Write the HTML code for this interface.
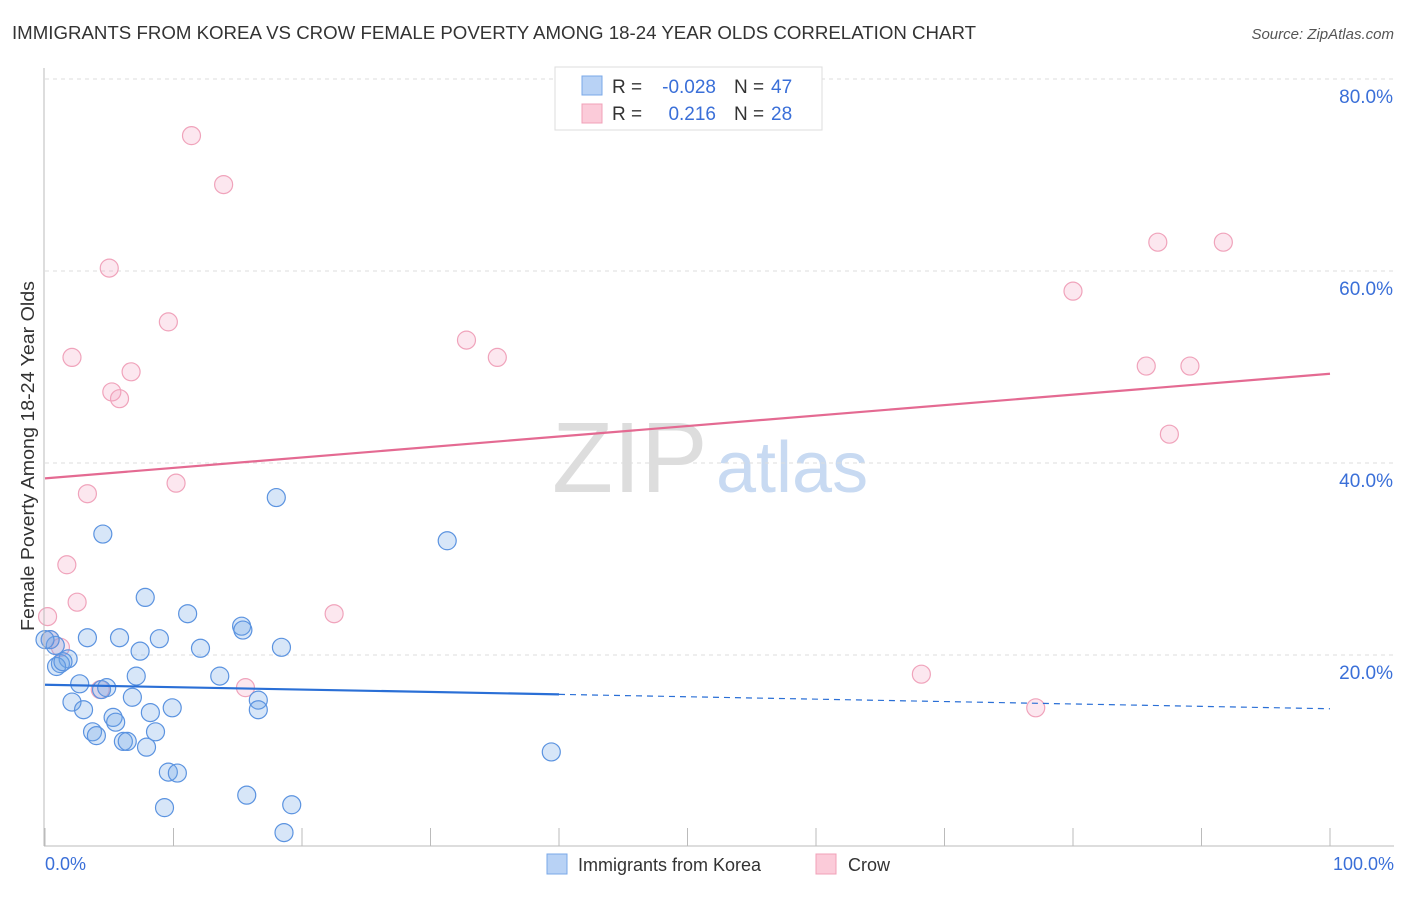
<!DOCTYPE html>
<html><head><meta charset="utf-8"><style>
body{margin:0;background:#fff;font-family:"Liberation Sans",sans-serif}
svg text{font-family:"Liberation Sans",sans-serif}
</style></head><body>
<svg id="chart" width="1406" height="892" xmlns="http://www.w3.org/2000/svg">
<text x="12" y="39" font-size="18" fill="#333" textLength="964" lengthAdjust="spacingAndGlyphs">IMMIGRANTS FROM KOREA VS CROW FEMALE POVERTY AMONG 18-24 YEAR OLDS CORRELATION CHART</text>
<text x="1394" y="39" font-size="15" fill="#555" text-anchor="end" font-style="italic">Source: ZipAtlas.com</text>
<text x="552" y="492" font-size="100" fill="#ddd" font-family="Liberation Serif">ZIP</text>
<text x="716" y="492" font-size="72" fill="#c8daf2">atlas</text>
<g id="grid"></g><g id="pts"></g><g id="lines"></g>
<line x1="44" y1="68" x2="44" y2="846" stroke="#bbb"/>
<line x1="44" y1="846" x2="1394" y2="846" stroke="#bbb"/>
<text transform="translate(34,456) rotate(-90)" font-size="18" fill="#333" text-anchor="middle" textLength="350" lengthAdjust="spacingAndGlyphs">Female Poverty Among 18-24 Year Olds</text>
<text x="45" y="870" font-size="18" fill="#3a6fd8">0.0%</text>
<text x="1394" y="870" font-size="18" fill="#3a6fd8" text-anchor="end">100.0%</text>
<g>
<rect x="555" y="67" width="267" height="63" fill="#fff" stroke="#ddd"/>
<rect x="582" y="76" width="20" height="19" fill="#b8d2f5" stroke="#7aa8e8"/>
<rect x="582" y="104" width="20" height="19" fill="#fbcbd9" stroke="#f0a0b8"/>
<text x="612" y="93" font-size="19" fill="#333">R =</text>
<text x="716" y="93" font-size="19" fill="#3a6fd8" text-anchor="end">-0.028</text>
<text x="734" y="93" font-size="19" fill="#333">N =</text>
<text x="771" y="93" font-size="19" fill="#3a6fd8">47</text>
<text x="612" y="120" font-size="19" fill="#333">R =</text>
<text x="716" y="120" font-size="19" fill="#3a6fd8" text-anchor="end">0.216</text>
<text x="734" y="120" font-size="19" fill="#333">N =</text>
<text x="771" y="120" font-size="19" fill="#3a6fd8">28</text>
</g>
<g>
<rect x="547" y="854" width="20" height="20" fill="#b8d2f5" stroke="#7aa8e8"/>
<text x="578" y="871" font-size="18" fill="#333">Immigrants from Korea</text>
<rect x="816" y="854" width="20" height="20" fill="#fbcbd9" stroke="#f0a0b8"/>
<text x="848" y="871" font-size="18" fill="#333">Crow</text>
</g>
</svg>
<script>
const yTicks=[20,40,60,80];
const yTickLabels=["20.0%","40.0%","60.0%","80.0%"];
const xTicks=[0,10,20,30,40,50,60,70,80,90,100];
const koreaX=[4.5,18.0,31.3,7.8,11.1,3.3,5.8,8.9,15.3,15.4,18.4,12.1,7.4,0.8,0.4,1.8,1.2,0.9,1.4,2.7,4.4,4.8,13.6,7.1,2.1,3.0,6.8,16.6,16.6,8.2,9.9,5.3,5.5,3.7,4.0,8.6,6.1,6.4,7.9,9.6,10.3,39.4,9.3,15.7,19.2,18.6,0.0];
const koreaY=[32.6,36.4,31.9,26.0,24.3,21.8,21.8,21.7,23.0,22.6,20.8,20.7,20.4,21.0,21.6,19.6,19.1,18.8,19.3,17.0,16.4,16.6,17.8,17.8,15.1,14.3,15.6,15.3,14.3,14.0,14.5,13.5,13.0,12.0,11.6,12.0,11.0,11.0,10.4,7.8,7.7,9.9,4.1,5.4,4.4,1.5,21.6];
const crowX=[11.4,13.9,5.0,9.6,2.1,6.7,5.2,5.8,32.8,35.2,3.3,10.2,1.7,2.5,0.2,22.5,0.4,1.2,4.3,15.6,68.2,77.1,80.0,86.6,91.7,85.7,89.1,87.5];
const crowY=[74.1,69.0,60.3,54.7,51.0,49.5,47.4,46.7,52.8,51.0,36.8,37.9,29.4,25.5,24.0,24.3,21.6,20.8,16.4,16.6,18.0,14.5,57.9,63.0,63.0,50.1,50.1,43.0];
const koreaTrend=[16.9,14.4];
const crowTrend=[38.4,49.3];
const koreaSolidEnd=40;
const X=v=>45+v*12.85, Y=v=>847-v*9.6;
const NS="http://www.w3.org/2000/svg";
function mk(t,a,p){const e=document.createElementNS(NS,t);for(const k in a)e.setAttribute(k,a[k]);p.appendChild(e);return e;}
const grid=document.getElementById('grid'),pts=document.getElementById('pts'),lines=document.getElementById('lines');
yTicks.forEach((v,i)=>{
 const l=mk('line',{x1:45,x2:1394,y1:Y(v),y2:Y(v),stroke:'#ddd','stroke-dasharray':'4,4'},grid);
 
 
 const t=mk('text',{x:1393,y:Y(v)+24,'font-size':19,fill:'#3a6fd8','text-anchor':'end'},grid);
 t.textContent=yTickLabels[i];
 
 
});
xTicks.forEach(v=>{
 const l=mk('line',{x1:X(v),x2:X(v),y1:828,y2:846,stroke:'#bbb'},grid);
 
 
});
crowX.forEach((x,i)=>{
 const c=mk('circle',{cx:X(x),cy:Y(crowY[i]),r:9,fill:'rgba(245,160,190,0.25)',stroke:'#f0a3bb','stroke-width':1.2},pts);
 
 
});
koreaX.forEach((x,i)=>{
 const c=mk('circle',{cx:X(x),cy:Y(koreaY[i]),r:9,fill:'rgba(110,165,230,0.28)',stroke:'#5b93e0','stroke-width':1.2},pts);
 
 
});
const kAt=v=>koreaTrend[0]+(koreaTrend[1]-koreaTrend[0])*v/100;
let l1=mk('line',{x1:X(0),y1:Y(kAt(0)),x2:X(koreaSolidEnd),y2:Y(kAt(koreaSolidEnd)),stroke:'#2a6fd6','stroke-width':2.2},lines);


let l2=mk('line',{x1:X(koreaSolidEnd),y1:Y(kAt(koreaSolidEnd)),x2:X(100),y2:Y(kAt(100)),stroke:'#2a6fd6','stroke-width':1.2,'stroke-dasharray':'6,5'},lines);


let l3=mk('line',{x1:X(0),y1:Y(crowTrend[0]),x2:X(100),y2:Y(crowTrend[1]),stroke:'#e46a92','stroke-width':2.2},lines);


</script>
</body></html>
